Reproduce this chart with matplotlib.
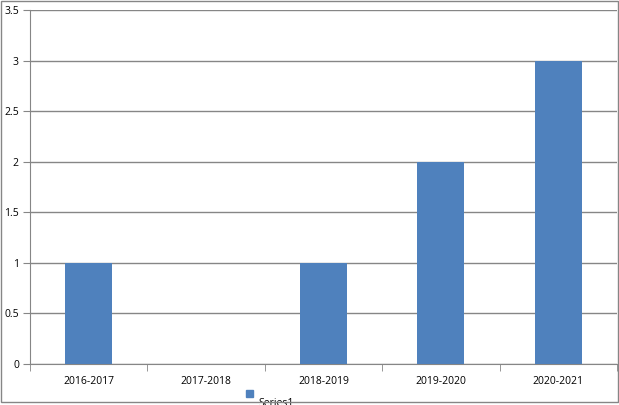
import matplotlib
matplotlib.use('Agg')
import matplotlib.pyplot as plt
import matplotlib.patches as mpatches
import numpy as np

categories = ['2016-2017', '2017-2018', '2018-2019', '2019-2020', '2020-2021']
values = [1, 0, 1, 2, 3]
yticks = [0, 0.5, 1, 1.5, 2, 2.5, 3, 3.5]
ytick_labels = ['0', '0.5', '1', '1.5', '2', '2.5', '3', '3.5']

bar_color = '#4f81bd'
grid_color = '#868686'

plt.rcParams['font.family'] = ['Open Sans', 'DejaVu Sans']

fig = plt.figure(figsize=(6.19, 4.05), dpi=100)
ax = fig.add_axes([30 / 619, 41 / 405, 587 / 619, 354 / 405])

x = np.arange(len(categories))
ax.bar(x, values, width=0.4, color=bar_color, zorder=3)

ax.set_xlim(-0.5, len(categories) - 0.5)
ax.set_ylim(0, 3.5)
ax.set_yticks(yticks)
ax.set_yticklabels(ytick_labels, fontsize=7.5)
ax.set_xticks(x)
ax.set_xticklabels(categories, fontsize=7.5)
ax.tick_params(axis='x', length=0, pad=9)
ax.tick_params(axis='y', length=5, color=grid_color, pad=3)
# category boundary ticks
ax.set_xticks(np.arange(-0.5, len(categories), 1), minor=True)
ax.tick_params(axis='x', which='minor', length=5, color=grid_color)

ax.yaxis.grid(True, color=grid_color, linewidth=1)
ax.set_axisbelow(True)
for side in ['top', 'right']:
    ax.spines[side].set_visible(False)
for side in ['left', 'bottom']:
    ax.spines[side].set_color(grid_color)

# legend: the square is visible, its label falls off the bottom edge
fig.patches.append(mpatches.Rectangle((246 / 619, 8 / 405), 7 / 619, 7 / 405,
                                      transform=fig.transFigure, color=bar_color))
fig.text(258 / 619, 7 / 405, 'Series1', fontsize=7.5, va='top', ha='left')

# outer border
fig.patches.append(mpatches.Rectangle((0.5 / 619, 3.5 / 405), 617 / 619, 401 / 405,
                                      transform=fig.transFigure, fill=False,
                                      edgecolor=grid_color, linewidth=1, zorder=5))

fig.savefig('out.png', dpi=100)
